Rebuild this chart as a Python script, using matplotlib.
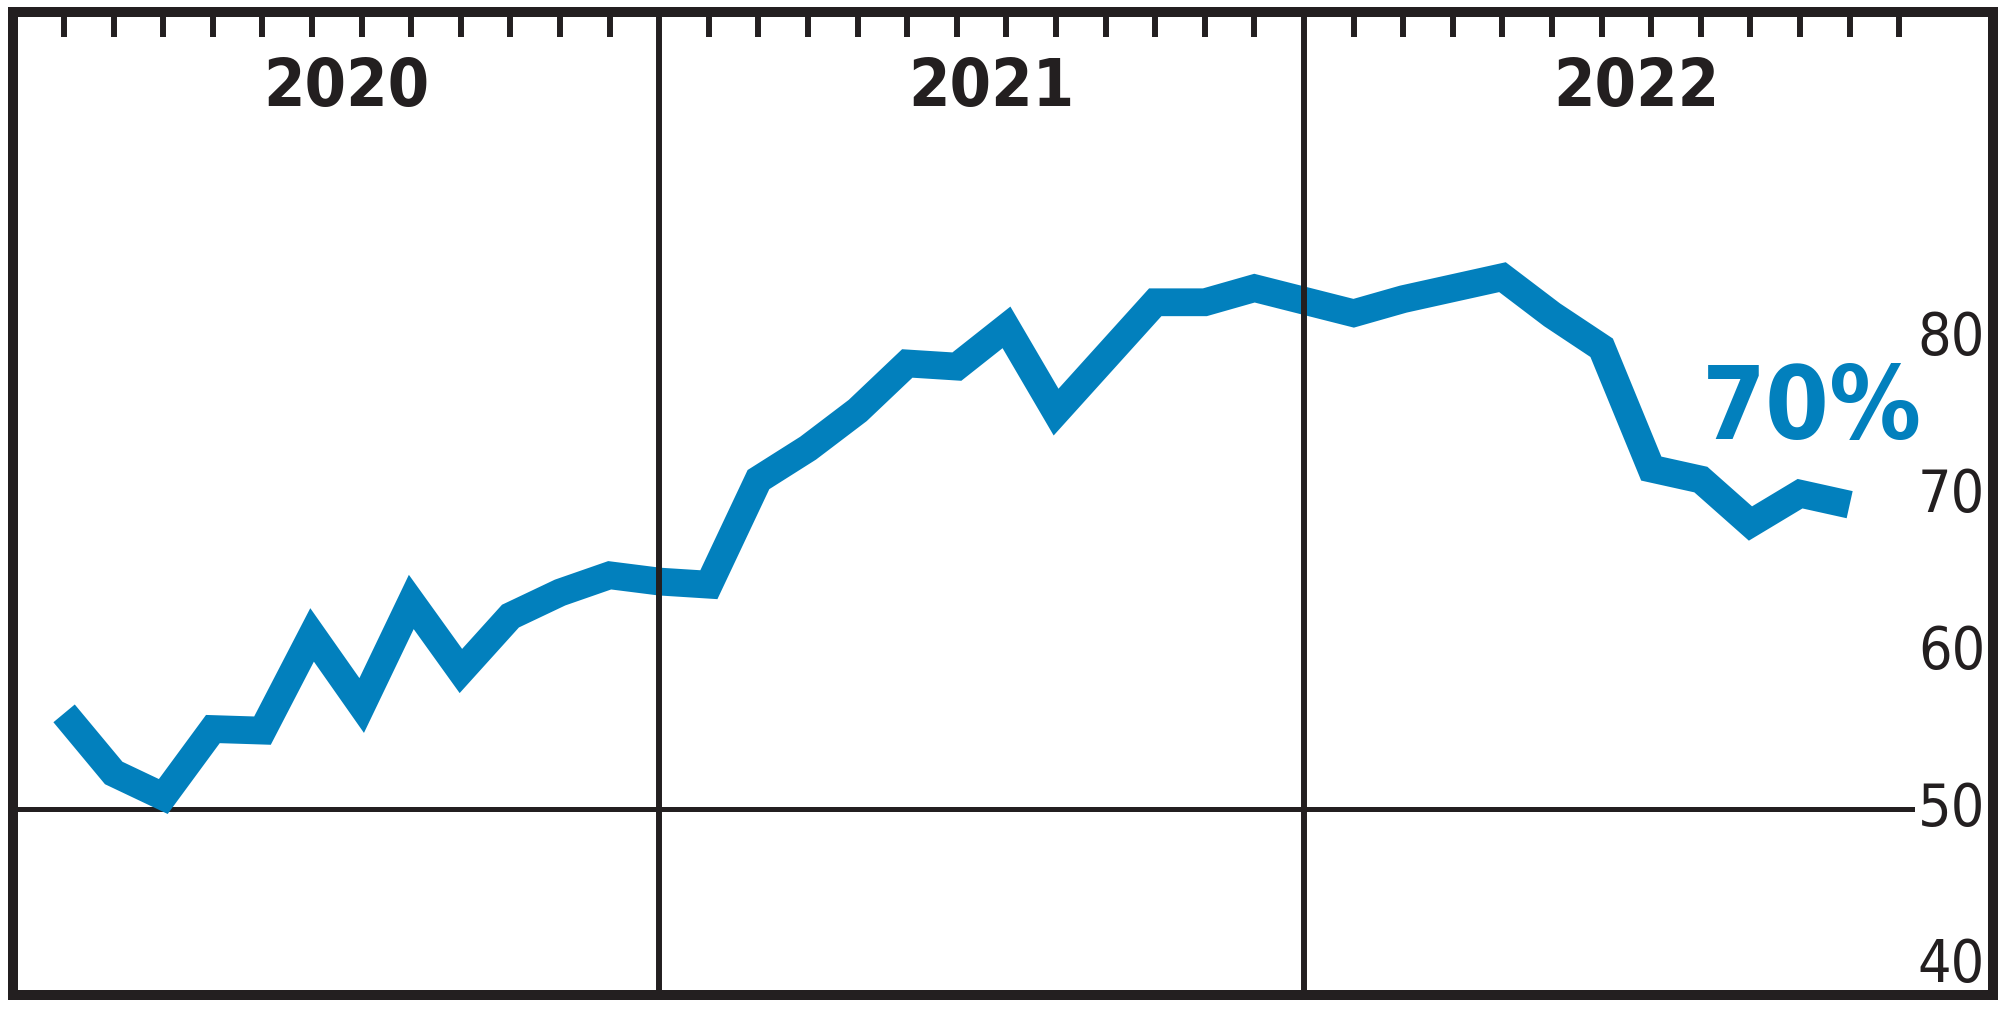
import matplotlib
matplotlib.use("Agg")
import matplotlib.pyplot as plt
import matplotlib.transforms as mtransforms
from matplotlib import font_manager as fm

# four-week periods, index 1 = first period of 2020
periods = list(range(1, 38))
share = [56.1, 52.3, 50.8, 55.1, 55.0, 61.1, 56.6, 63.2, 58.8, 62.3, 63.8, 64.9,
         64.5, 64.3, 71.0, 73.0, 75.4, 78.4, 78.2, 80.7, 75.3, 78.8, 82.3, 82.3,
         83.2, 82.4, 81.6, 82.5, 83.2, 83.9, 81.5, 79.4, 71.7, 71.0, 68.2, 70.1,
         69.4]

years = ["2020", "2021", "2022"]
year_starts = [0, 13, 26]
y_labels = [40, 50, 60, 70, 80]
tick_idx = [i for i in range(1, 39) if i not in (13, 26)]
last_label = "70%"

blue = "#0280bd"
ink = "#231f20"

# pick the narrowest sans that is installed
installed = fm.fontManager.ttflist
names = {f.name for f in installed}
if "Liberation Sans Narrow" in names:
    font = dict(family=["Liberation Sans Narrow", "DejaVu Sans"], stretch="normal")
    scale = 1.0
elif any(f.name == "DejaVu Sans" and f.stretch == "condensed" for f in installed):
    font = dict(family=["DejaVu Sans"], stretch="condensed")
    scale = 0.92
else:
    font = dict(family=["Liberation Sans", "DejaVu Sans"], stretch="normal")
    scale = 0.88

fig = plt.figure(figsize=(20.1, 10.14), dpi=100)
ax = fig.add_axes([13 / 2010, 1 - 995 / 1014, 1980 / 2010, 983 / 1014])
ax.set_xlim(-0.03, 39.89)
ax.set_ylim(38.15, 100.8)

for sp in ax.spines.values():
    sp.set_linewidth(7.2)
    sp.set_color(ink)

ax.xaxis.tick_top()
ax.set_xticks(tick_idx)
ax.tick_params(axis="x", direction="in", length=18, width=4.3, color=ink,
               labeltop=False, labelbottom=False)
ax.set_yticks([])

# reference line at 50 and year separators
ax.axhline(50, xmin=0, xmax=0.959, color=ink, lw=3.6, zorder=1)
for ys in year_starts[1:]:
    ax.axvline(ys, color=ink, lw=4.3, zorder=3)

ax.plot(periods, share, color=blue, lw=20, solid_joinstyle="miter",
        solid_capstyle="butt", zorder=2)

# year labels along the top
top = mtransforms.blended_transform_factory(ax.transData, ax.transAxes)
for yr, ys in zip(years, year_starts):
    ax.text(ys + 6.7, 0.904, yr, transform=top, ha="center", va="baseline",
            fontsize=52 * scale, fontweight="bold", color=ink, **font)

# value labels inside the right edge
right = mtransforms.blended_transform_factory(ax.transAxes, ax.transData)
for v in y_labels:
    ax.text(0.979, v, str(v), transform=right, ha="center", va="center",
            fontsize=46 * scale, color=ink, **font)

ax.text(36.24, 73.6, last_label, ha="center", va="baseline",
        fontsize=80 * scale, fontweight="bold", color=blue, **font)

fig.savefig("out.png", dpi=100)
